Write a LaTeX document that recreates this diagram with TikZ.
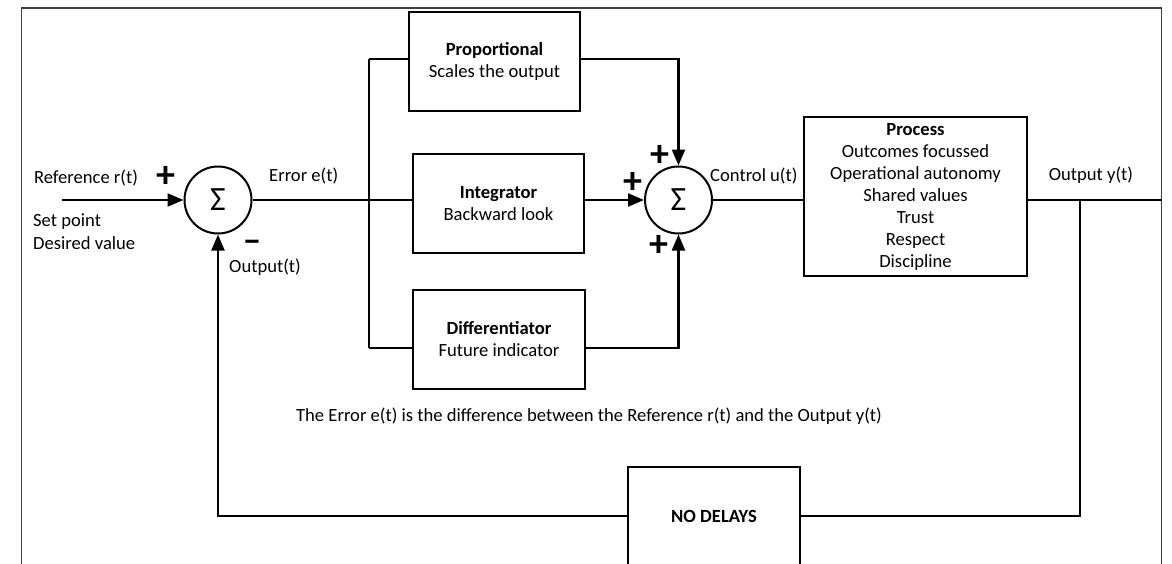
\documentclass[tikz,border=0pt]{standalone}
\usepackage{fontspec}
\setmainfont{Carlito}
\usetikzlibrary{arrows.meta}
\begin{document}
\begin{tikzpicture}[x=1pt,y=-1pt,
  every node/.style={font=\fontsize{18.6}{22}\selectfont, inner sep=0pt},
  wire/.style={draw, line width=2.2pt},
  arrow/.style={wire, -{Triangle[length=16pt,width=13pt]}},
  block/.style={draw, line width=2.2pt, align=center},
  sumnode/.style={draw, circle, line width=2pt, minimum size=67pt, font=\fontsize{34}{34}\selectfont},
  sign/.style={font=\fontsize{38}{38}\selectfont\bfseries},
  minus/.style={font=\fontsize{34}{34}\selectfont\bfseries, text height=10pt, text depth=0pt}]
\useasboundingbox (0,0) rectangle (1172,563);
\clip (0,0) rectangle (1172,563);
\draw[black!75, line width=1.1pt] (21.5,570) -- (21.5,8) -- (1161.5,8) -- (1161.5,570);

% summing junctions
\node[sumnode] (s1) at (218,200) {Σ};
\node[sumnode] (s2) at (678.5,200) {Σ};

% blocks
\node[block, minimum width=171pt, minimum height=99pt] (P) at (494.5,61.5) {\textbf{Proportional}\\Scales the output};
\node[block, minimum width=171pt, minimum height=99pt] (I) at (498.5,203.5) {\textbf{Integrator}\\Backward look};
\node[block, minimum width=172pt, minimum height=99pt] (D) at (499,339.5) {\textbf{Differentiator}\\Future indicator};
\node[block, minimum width=223pt, minimum height=159pt] (Proc) at (915.5,196.5) {\textbf{Process}\\Outcomes focussed\\Operational autonomy\\Shared values\\Trust\\Respect\\Discipline};
\node[block, minimum width=172pt, minimum height=98pt] (ND) at (714,516) {\textbf{NO DELAYS}};

% coordinates
\coordinate (in) at (62,200);
\coordinate (bt) at (369,59);
\coordinate (bb) at (369,348);
\coordinate (out) at (1161.5,200);
\coordinate (tap) at (1080,200);

% wires
\draw[arrow] (in) -- (s1.west);
\draw[wire] (s1.east) -- (s1.east -| I.west);
\draw[wire] (bt) -- (bb);
\draw[wire] (bt) -- (bt -| P.west);
\draw[wire] (bb) -- (bb -| D.west);
\draw[arrow] (P.east |- bt) -| (s2.north);
\draw[arrow] (D.east |- bb) -| (s2.south);
\draw[arrow] (I.east |- s2.west) -- (s2.west);
\draw[wire] (s2.east) -- (s2.east -| Proc.west);
\draw[wire] (Proc.east |- s2.east) -- (out);
\draw[wire] (tap) |- (ND.east);
\draw[arrow] (ND.west) -| (s1.south);

% labels
\node (lref) at (86,178) {Reference r(t)};
\node[anchor=west] (lsp) at (33,222) {Set point};
\node[anchor=west] (ldv) at (33,243) {Desired value};
\node[sign] (p1) at (166,177) {+};
\node[minus] (m1) at (252,247.5) {−};
\node[anchor=west] (lout) at (229,267) {Output(t)};
\node[anchor=west] (lerr) at (269,176) {Error e(t)};
\node[sign] (p2) at (660,156) {+};
\node[sign] (p3) at (633,183) {+};
\node[sign] (p4) at (659,246) {+};
\node[anchor=west] (lctl) at (710,176) {Control u(t)};
\node (ly) at (1091,175) {Output y(t)};
\node (note) at (589,416) {The Error e(t) is the difference between the Reference r(t) and the Output y(t)};
\end{tikzpicture}
\end{document}
